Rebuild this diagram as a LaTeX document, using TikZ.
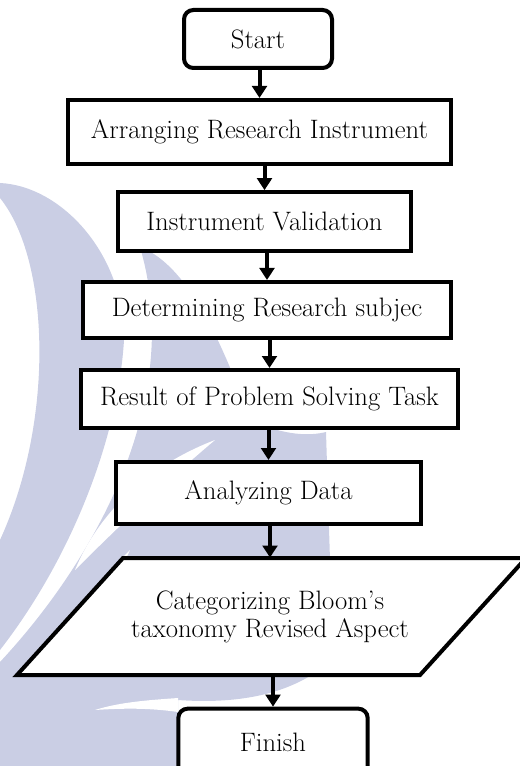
\documentclass[tikz,border=0pt]{standalone}
\usetikzlibrary{arrows.meta}
\definecolor{wmark}{RGB}{202,206,228}

\begin{document}
\begin{tikzpicture}[x=0.75pt,y=-0.75pt,
  font=\fontsize{20}{21}\selectfont,
  box/.style={draw,line width=3pt,fill=white,inner sep=0pt,align=center},
  term/.style={box,rounded corners=7pt},
  flow/.style={line width=3pt,-{Triangle[width=11pt,length=9pt]}}]
  \useasboundingbox (0,0) rectangle (519,766);
  % Watermark
  \fill[wmark] (0,183) .. controls (62,186) and (125,255) .. (124,340)
    .. controls (118,440) and (70,560) .. (0,650) -- (0,540)
    .. controls (55,420) and (50,260) .. (0,198) -- cycle;
  \fill[wmark] (140,247) .. controls (180,262) and (215,320) .. (250,420)
    .. controls (285,436) and (310,436) .. (326,432) -- (330,560) -- (310,676)
    .. controls (270,700) and (220,703) .. (178,700) -- (178,766) -- (0,766) -- (0,662)
    .. controls (95,560) and (185,400) .. (140,247) -- cycle;
  \fill[white] (215,440) .. controls (150,465) and (100,510) .. (75,570)
    .. controls (125,520) and (170,478) .. (215,440) -- cycle;
  \fill[white] (130,550) .. controls (100,580) and (75,615) .. (58,655)
    .. controls (90,620) and (112,590) .. (130,550) -- cycle;
  \fill[white] (178,698) .. controls (150,700) and (120,702) .. (95,710)
    .. controls (125,708) and (150,708) .. (178,712) -- cycle;
  % Steps
  \node[term,minimum width=111pt,minimum height=43.5pt] (start) at (258,39) {Start};
  \node[box,minimum width=287pt,minimum height=48pt] (arrange) at (259.5,132) {Arranging Research Instrument};
  \node[box,minimum width=220pt,minimum height=44pt] (valid) at (264.5,221.5) {Instrument Validation};
  \node[box,minimum width=276pt,minimum height=42pt] (subject) at (267,310) {Determining Research subjec};
  \node[box,minimum width=283pt,minimum height=43.5pt] (result) at (269.5,399) {Result of Problem Solving Task};
  \node[box,minimum width=229pt,minimum height=46.5pt] (analyze) at (268.5,493) {Analyzing Data};
  % Parallelogram behind the output step
  \filldraw[line width=3pt,fill=white] (17,675) -- (123,558) -- (526,558) -- (420,675) -- cycle;
  \node[inner sep=0pt,minimum width=300pt,minimum height=88pt,align=center] (bloom) at (270,616.5)
    {Categorizing Bloom’s\\taxonomy Revised Aspect};
  \node[term,minimum width=142pt,minimum height=50pt] (finish) at (273,742) {Finish};
  % Arrows
  \draw[flow] (start.south -| arrange.north) -- (arrange.north);
  \draw[flow] (arrange.south -| valid.north) -- (valid.north);
  \draw[flow] (valid.south -| subject.north) -- (subject.north);
  \draw[flow] (subject.south -| result.north) -- (result.north);
  \draw[flow] (result.south -| analyze.north) -- (analyze.north);
  \draw[flow] (analyze.south -| bloom.north) -- (bloom.north);
  \draw[flow] (bloom.south -| finish.north) -- (finish.north);
\end{tikzpicture}
\end{document}
